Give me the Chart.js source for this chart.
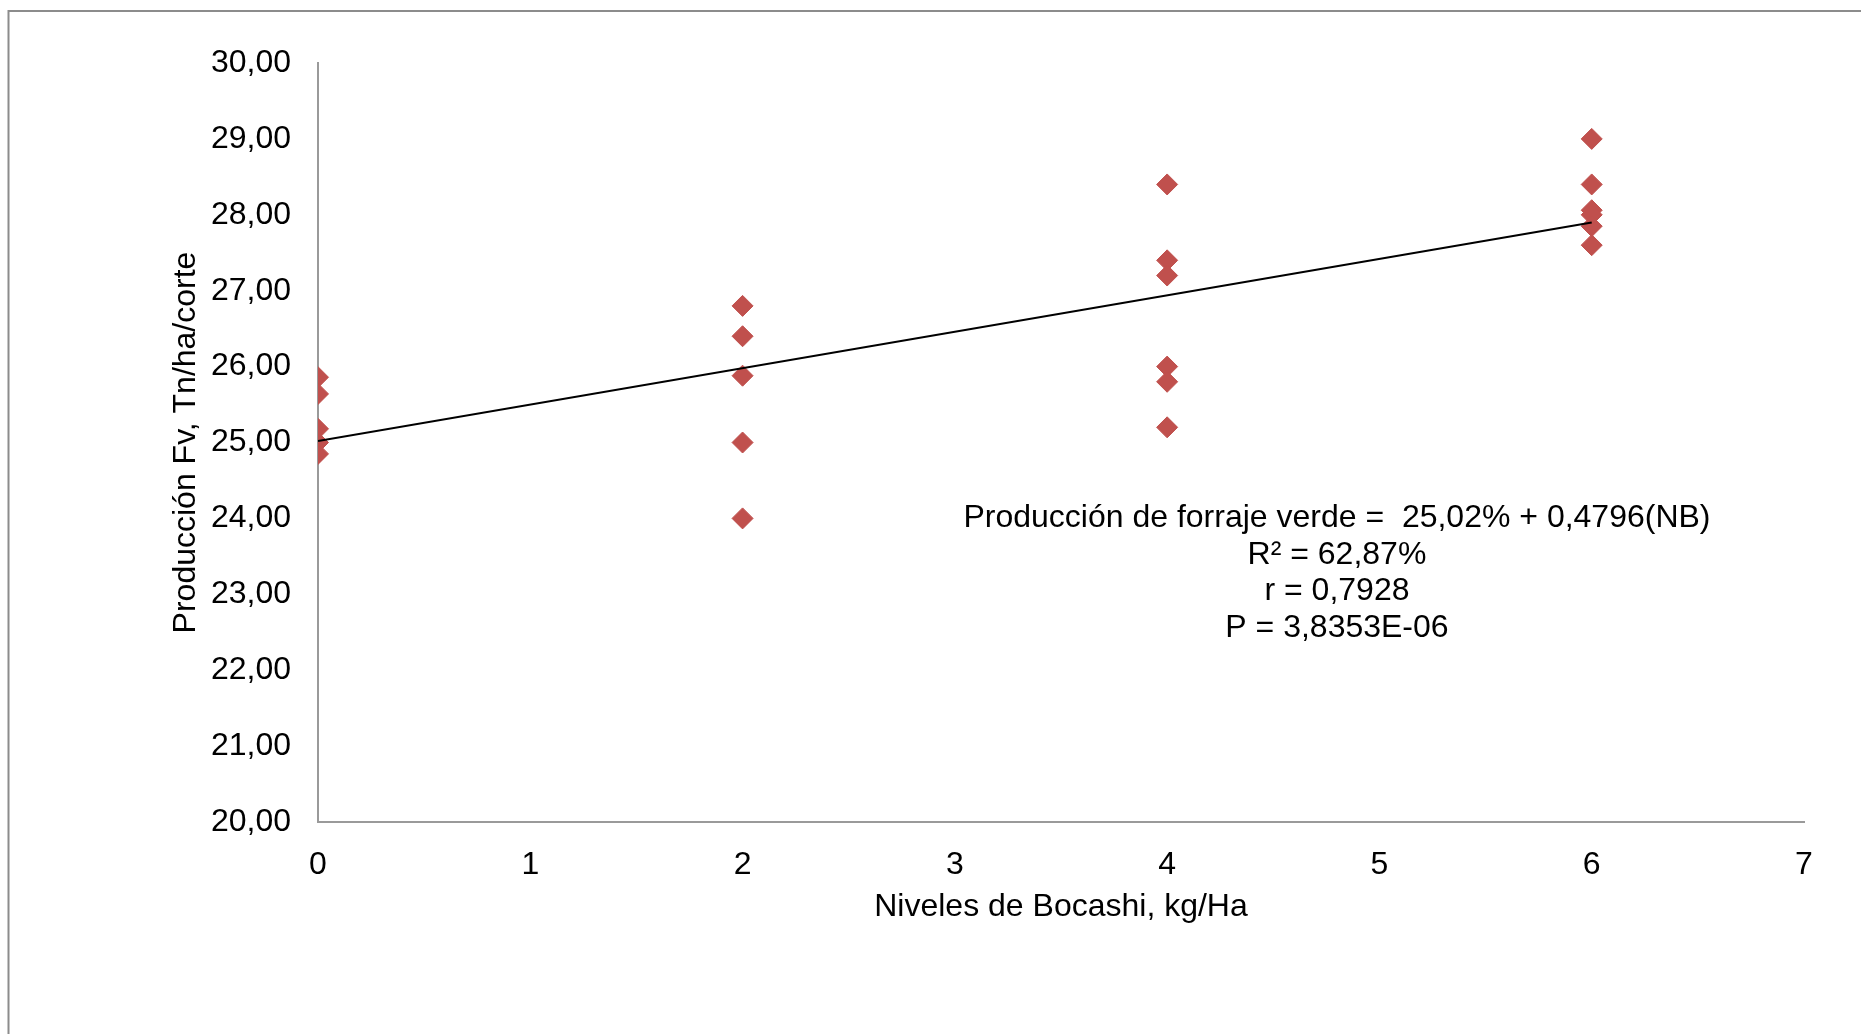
<!DOCTYPE html>
<html>
<head>
<meta charset="utf-8">
<script src="https://cdn.jsdelivr.net/npm/chart.js@4/dist/chart.umd.min.js"></script>
<style>
  html, body { margin: 0; padding: 0; background: #fff; }
  #wrap { width: 1861px; height: 1034px; position: relative; }
</style>
</head>
<body>
<div id="wrap"><canvas id="c" width="1861" height="1034"></canvas></div>
<script>
// ---- Data ----
const levelsX = [0, 0, 0, 0, 0, 2, 2, 2, 2, 2, 4, 4, 4, 4, 4, 4, 6, 6, 6, 6, 6, 6];
const productionY = [25.86, 25.64, 25.18, 25.00, 24.85,
                     26.80, 26.40, 25.88, 25.00, 24.00,
                     28.40, 27.40, 27.20, 26.00, 25.80, 25.20,
                     29.00, 28.40, 28.06, 28.00, 27.85, 27.60];
const trendX = [0, 6];
const trendY = [25.02, 27.90];
const yTicks = [20, 21, 22, 23, 24, 25, 26, 27, 28, 29, 30];
const xTicks = [0, 1, 2, 3, 4, 5, 6, 7];
const annotationLines = [
  'Producción de forraje verde =  25,02% + 0,4796(NB)',
  'R² = 62,87%',
  'r = 0,7928',
  'P = 3,8353E-06'
];
const annotationAnchor = [4.8, 24.0];

const FONT = '"Liberation Sans", Arial, sans-serif';
const FS = 32;

const framePlugin = {
  id: 'frame',
  beforeDraw(chart) {
    const ctx = chart.ctx;
    ctx.save();
    ctx.fillStyle = '#fff';
    ctx.fillRect(0, 0, chart.width, chart.height);
    ctx.strokeStyle = '#8c8c8c';
    ctx.lineWidth = 2;
    ctx.beginPath();
    ctx.moveTo(8.5, chart.height);
    ctx.lineTo(8.5, 11);
    ctx.lineTo(chart.width, 11);
    ctx.stroke();
    ctx.restore();
  }
};

const annotationPlugin = {
  id: 'eqText',
  afterDatasetsDraw(chart) {
    const ctx = chart.ctx;
    const xs = chart.scales.x, ys = chart.scales.y;
    const cx = xs.getPixelForValue(annotationAnchor[0]);
    const cy = ys.getPixelForValue(annotationAnchor[1]);
    ctx.save();
    ctx.fillStyle = '#000';
    ctx.font = FS + 'px ' + FONT;
    ctx.textAlign = 'center';
    ctx.textBaseline = 'middle';
    annotationLines.forEach((t, i) => ctx.fillText(t, cx, cy + i * 36.5));
    ctx.restore();
  }
};

const points = levelsX.map((x, i) => ({ x: x, y: productionY[i] }));
const trend = trendX.map((x, i) => ({ x: x, y: trendY[i] }));

new Chart(document.getElementById('c'), {
  type: 'scatter',
  data: {
    datasets: [
      {
        type: 'line',
        data: trend,
        borderColor: '#000',
        borderWidth: 2,
        pointRadius: 0,
        fill: false,
        order: 0
      },
      {
        data: points,
        pointStyle: 'rectRot',
        pointRadius: 10.5,
        pointBackgroundColor: '#C0504D',
        pointBorderColor: '#C0504D',
        pointBorderWidth: 1,
        order: 1
      }
    ]
  },
  options: {
    responsive: false,
    animation: false,
    layout: { padding: { left: 0, right: 57, top: 63, bottom: 0 } },
    plugins: { legend: { display: false }, tooltip: { enabled: false } },
    scales: {
      x: {
        type: 'linear',
        min: 0, max: 7,
        afterBuildTicks(s) { s.ticks = xTicks.map(v => ({ value: v })); },
        afterFit(s) { s.height = 212; },
        grid: { display: false, drawTicks: false },
        border: { display: true, color: '#9a9a9a', width: 2 },
        ticks: {
          color: '#000',
          font: { family: FONT, size: FS },
          padding: 24,
          callback: v => String(v)
        },
        title: {
          display: true,
          text: 'Niveles de Bocashi, kg/Ha',
          color: '#000',
          font: { family: FONT, size: FS },
          padding: { top: 0, bottom: 108 }
        }
      },
      y: {
        type: 'linear',
        min: 20, max: 30,
        afterBuildTicks(s) { s.ticks = yTicks.map(v => ({ value: v })); },
        afterFit(s) { s.width = 318; },
        grid: { display: false, drawTicks: false },
        border: { display: true, color: '#9a9a9a', width: 2 },
        ticks: {
          color: '#000',
          font: { family: FONT, size: FS },
          padding: 27,
          callback: v => v.toFixed(2).replace('.', ',')
        },
        title: {
          display: true,
          text: 'Producción Fv, Tn/ha/corte',
          color: '#000',
          font: { family: FONT, size: FS },
          padding: { top: 167, bottom: 0 }
        }
      }
    }
  },
  plugins: [framePlugin, annotationPlugin]
});
</script>
</body>
</html>
